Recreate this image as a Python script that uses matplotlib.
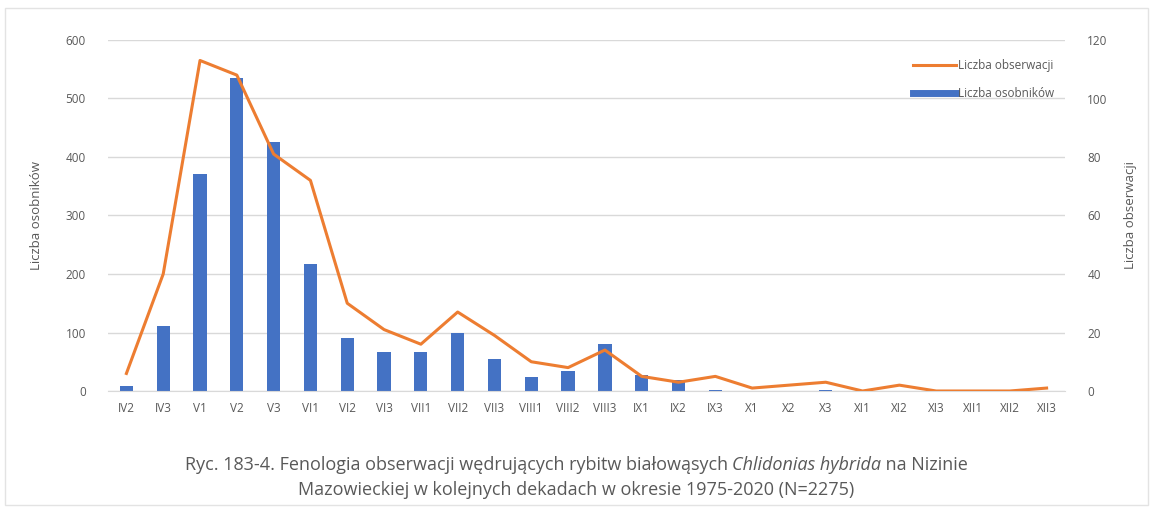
import numpy as np
import matplotlib
matplotlib.use('Agg')
import matplotlib.pyplot as plt
from matplotlib.lines import Line2D
from matplotlib.patches import Rectangle

# decades (month + decade number)
categories = ['IV2', 'IV3', 'V1', 'V2', 'V3', 'VI1', 'VI2', 'VI3', 'VII1', 'VII2',
              'VII3', 'VIII1', 'VIII2', 'VIII3', 'IX1', 'IX2', 'IX3', 'X1', 'X2',
              'X3', 'XI1', 'XI2', 'XI3', 'XII1', 'XII2', 'XII3']
# Liczba osobnikow (left axis, bars)
birds = [9, 111, 371, 535, 425, 217, 90, 66, 66, 99,
         54, 24, 34, 81, 28, 19, 2, 0, 0,
         2, 0, 0, 0, 0, 0, 0]
# Liczba obserwacji (right axis, line)
observations = [6, 40, 113, 108, 81, 72, 30, 21, 16, 27,
                19, 10, 8, 14, 5, 3, 5, 1, 2,
                3, 0, 2, 0, 0, 0, 1]

BLUE = '#4472C4'
ORANGE = '#ED7D31'
GREY = '#595959'

plt.rcParams['font.family'] = ['Open Sans', 'DejaVu Sans']

fig = plt.figure(figsize=(11.53, 5.15), dpi=100)
W, H = 1153, 515
ax = fig.add_axes([108 / W, 124 / H, 957 / W, 351 / H])
ax2 = ax.twinx()

x = np.arange(len(categories))
ax.bar(x, birds, width=0.36, color=BLUE, zorder=2)
ax2.plot(x, observations, color=ORANGE, lw=2.2, zorder=3)

ax.set_xlim(-0.5, len(categories) - 0.5)
ax.set_ylim(0, 600)
ax2.set_ylim(0, 120)
ax.set_yticks(np.arange(0, 601, 100))
ax2.set_yticks(np.arange(0, 121, 20))
ax.set_xticks(x)
ax.set_xticklabels(categories)
ax.grid(axis='y', color='#D9D9D9', lw=1, zorder=0)
ax.set_axisbelow(True)

for a in (ax, ax2):
    for s in a.spines.values():
        s.set_visible(False)
    a.tick_params(length=0, labelsize=8.5, labelcolor=GREY)
ax.spines['bottom'].set_visible(True)
ax.spines['bottom'].set_color('#D9D9D9')
ax.tick_params(axis='y', pad=16)
ax.tick_params(axis='x', pad=8)
ax2.tick_params(axis='y', pad=16)

ax.set_ylabel('Liczba osobników', fontsize=9.5, color=GREY, labelpad=16)
ax2.set_ylabel('Liczba obserwacji', fontsize=9.5, color=GREY, labelpad=12)

handles = [Line2D([], [], color=ORANGE, lw=2.2),
           Line2D([], [], color=BLUE, lw=5)]
ax2.legend(handles, ['Liczba obserwacji', 'Liczba osobników'], loc='upper right',
           bbox_to_anchor=(1.0, 0.975), frameon=False, fontsize=8.5,
           labelcolor=GREY, handlelength=3.6, handletextpad=0.2, labelspacing=1.25)

# faint frame around the chart
fig.patches.append(Rectangle((5 / W, 10 / H), 1143 / W, 497 / H, transform=fig.transFigure,
                             fill=False, edgecolor='#E3E3E3', lw=1))

# caption with italic species name
fig.canvas.draw()
r = fig.canvas.get_renderer()
parts = [('Ryc. 183-4. Fenologia obserwacji wędrujących rybitw białowąsych ', 'normal'),
         ('Chlidonias hybrida', 'italic'),
         (' na Nizinie', 'normal')]
texts = []
for s, st in parts:
    texts.append(fig.text(0, 50 / H, s, fontsize=13, color=GREY, style=st,
                          ha='left', va='center'))
widths = [t.get_window_extent(r).width for t in texts]
xpos = (W - sum(widths)) / 2
for t, w in zip(texts, widths):
    t.set_x(xpos / W)
    xpos += w
fig.text(0.5, 25 / H, 'Mazowieckiej w kolejnych dekadach w okresie 1975-2020 (N=2275)',
         fontsize=13, color=GREY, ha='center', va='center')

fig.savefig('out.png', dpi=100)
